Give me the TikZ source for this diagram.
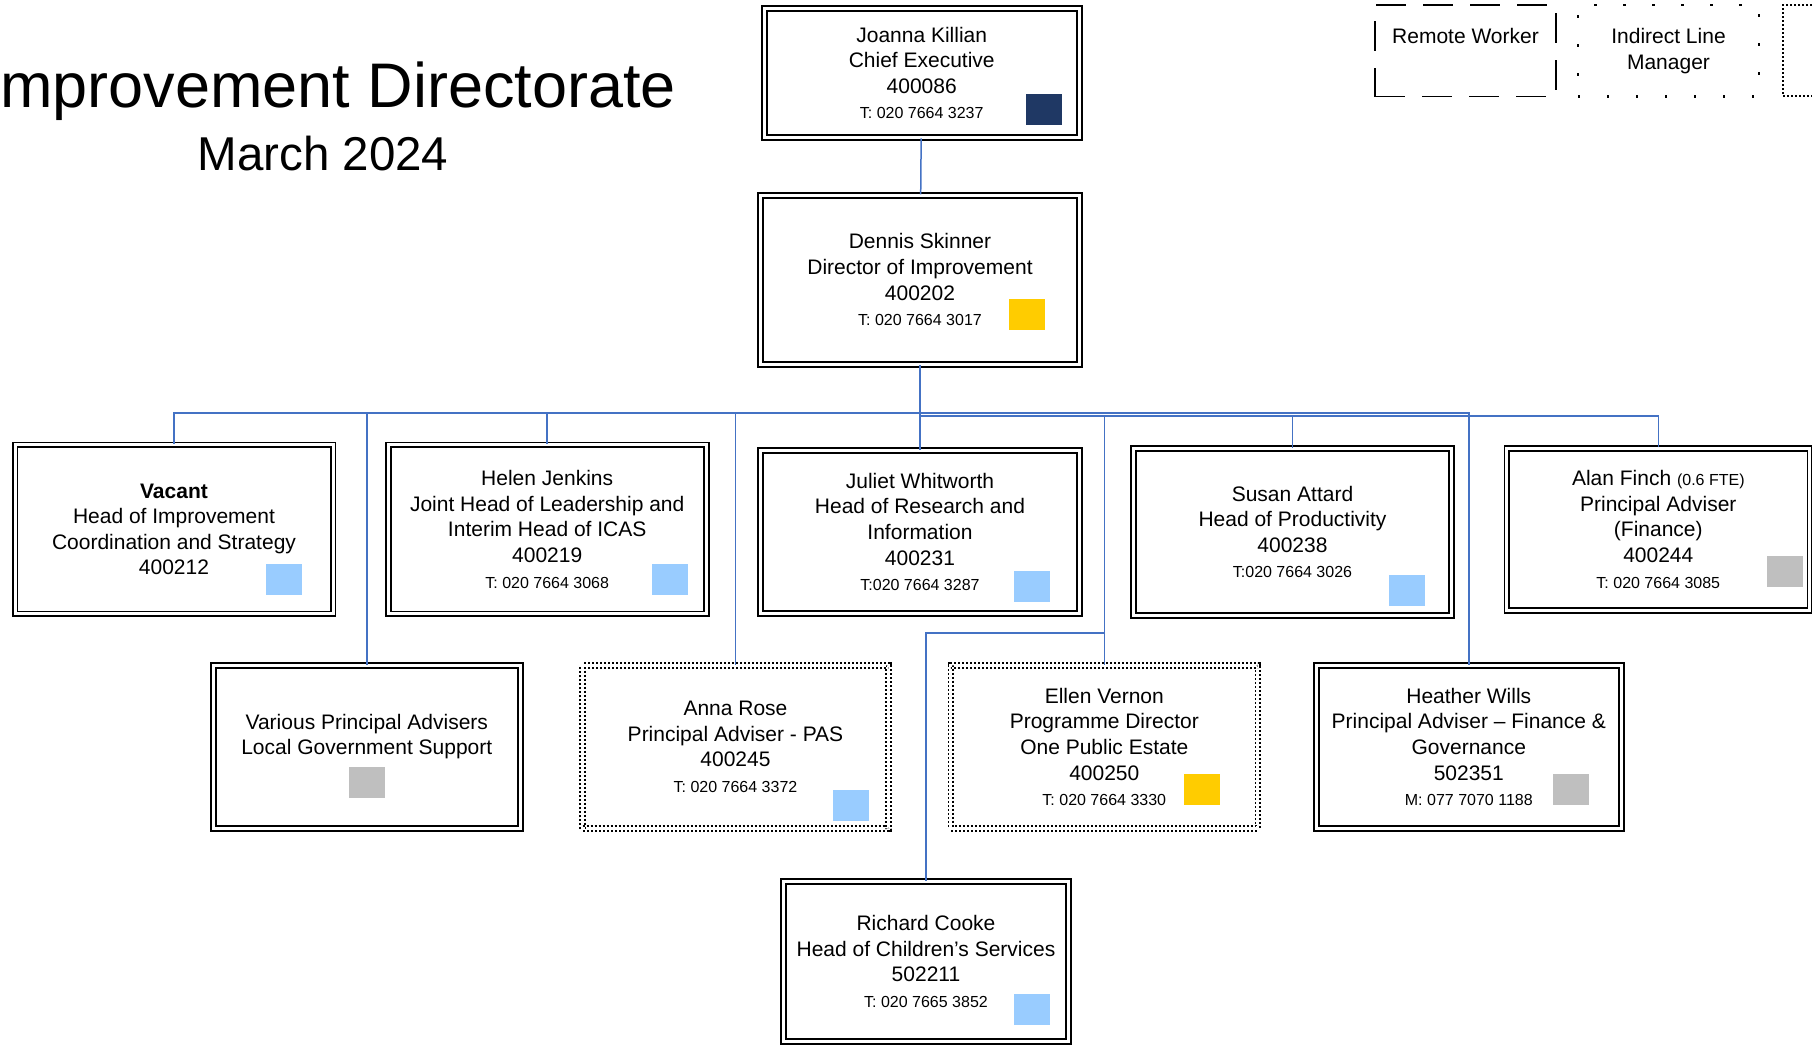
\documentclass[tikz,border=0pt]{standalone}
\usepackage{fontspec}
\setmainfont{Liberation Sans}
\definecolor{linkblue}{HTML}{4472C4}
\definecolor{navy}{HTML}{1F3864}
\definecolor{gold}{HTML}{FFCC00}
\definecolor{sky}{HTML}{99CCFF}
\definecolor{greytag}{HTML}{BFBFBF}
\newcommand{\telno}[1]{{\fontsize{8}{10}\selectfont #1}}
\tikzset{link/.style={draw=linkblue, line width=0.75pt}}

\begin{document}
\begin{tikzpicture}[x=0.5pt, y=-0.5pt]
			\useasboundingbox (0,0) rectangle (1812,1046);

			% heading
			\node[anchor=base west, inner sep=0pt, font=\fontsize{31.5}{36}\selectfont] (heading) at (0,107) {mprovement Directorate};
			\node[anchor=base, inner sep=0pt, font=\fontsize{23.75}{28}\selectfont] (date) at (323,170) {March 2024};

			% key
			\begin{scope}[every node/.style={rectangle, draw, minimum width=90.5pt, minimum height=45.8pt, align=center, inner sep=0pt, font=\fontsize{10.5}{12.8}\selectfont}]
				\node[line width=0.75pt, dash pattern=on 15pt off 8.5pt] (remote) at (1465.5,50.8) {Remote Worker\\\phantom{Manager}};
				\node[line width=1.2pt, dash pattern=on 1.2pt off 13.3pt] (indirect) at (1668.5,50.8) {Indirect Line\\Manager};
			\end{scope}
			\draw[line width=0.75pt, dash pattern=on 1pt off 1pt] (1840,5) -| (1783,96) -- (1840,96);

			\begin{scope}[every node/.style={rectangle, draw, double, double distance=1.5pt, line width=0.9pt, align=center, inner sep=0pt, font=\fontsize{10.5}{12.8}\selectfont}]
				\node[minimum width=157.5pt, minimum height=64.5pt] (ce) at (921.7,73) {Joanna Killian\\Chief Executive\\400086\\\telno{T: 020 7664 3237}};
				\node[minimum width=159.5pt, minimum height=84.5pt] (dir) at (920,279.8) {Dennis Skinner\\Director of Improvement\\400202\\\telno{T: 020 7664 3017}};
				\node[minimum width=159pt, minimum height=84.5pt] (vacant) at (174,529.3) {\textbf{Vacant}\\Head of Improvement\\Coordination and Strategy\\400212};
				\node[minimum width=159pt, minimum height=84.5pt] (helen) at (547.2,529.3) {Helen Jenkins\\Joint Head of Leadership and\\Interim Head of ICAS\\400219\\\telno{T: 020 7664 3068}};
				\node[minimum width=159.5pt, minimum height=81.5pt] (juliet) at (920,532) {Juliet Whitworth\\Head of Research and\\Information\\400231\\\telno{T:020 7664 3287}};
				\node[minimum width=159pt, minimum height=83.5pt] (susan) at (1292.5,532) {Susan Attard\\Head of Productivity\\400238\\\telno{T:020 7664 3026}};
				\node[minimum width=151.5pt, minimum height=81pt] (finch) at (1658.3,529.3) {Alan Finch \telno{(0.6 FTE)}\\Principal Adviser\\(Finance)\\400244\\\telno{T: 020 7664 3085}};
				\node[minimum width=153.5pt, minimum height=81.5pt] (various) at (366.8,747) {Various Principal Advisers\\Local Government Support\\\phantom{X}};
				\node[minimum width=153pt, minimum height=81.5pt, dash pattern=on 1pt off 1pt] (anna) at (735.5,747) {Anna Rose\\Principal Adviser - PAS\\400245\\\telno{T: 020 7664 3372}};
				\node[minimum width=153.5pt, minimum height=81.5pt, dash pattern=on 1pt off 1pt] (ellen) at (1104.3,747) {Ellen Vernon\\Programme Director\\One Public Estate\\400250\\\telno{T: 020 7664 3330}};
				\node[minimum width=152.5pt, minimum height=81.5pt] (heather) at (1468.8,747) {Heather Wills\\Principal Adviser – Finance \&\\Governance\\502351\\\telno{M: 077 7070 1188}};
				\node[minimum width=142.5pt, minimum height=80pt] (richard) at (926,961.5) {Richard Cooke\\Head of Children’s Services\\502211\\\telno{T: 020 7665 3852}};
			\end{scope}

			% colour tags
			\begin{scope}[every node/.style={rectangle, minimum width=18pt, minimum height=15.6pt, inner sep=0pt}]
				\node[fill=navy] (ce-tag) at (1043.5,109.5) {};
				\node[fill=gold] (dir-tag) at (1026.5,314.5) {};
				\node[fill=sky] (vacant-tag) at (283.8,579.5) {};
				\node[fill=sky] (helen-tag) at (669.8,579.5) {};
				\node[fill=sky] (juliet-tag) at (1032.3,586.5) {};
				\node[fill=sky] (susan-tag) at (1407,590.4) {};
				\node[fill=greytag] (finch-tag) at (1784.5,571.5) {};
				\node[fill=greytag] (various-tag) at (367,782.8) {};
				\node[fill=sky] (anna-tag) at (851,805.8) {};
				\node[fill=gold] (ellen-tag) at (1202.3,789.8) {};
				\node[fill=greytag] (heather-tag) at (1571,789.8) {};
				\node[fill=sky] (richard-tag) at (1032.3,1009.5) {};
			\end{scope}

			% reporting lines
			\coordinate (busL) at (920,413);
			\coordinate (busR) at (920,416);
			\coordinate (bend) at (1104.3,633);
			\draw[link] (ce) -- (dir);
			\draw[link] (dir) -- (juliet);
			\draw[link] (vacant.north) |- (busL);
			\draw[link] (various.north) |- (busL);
			\draw[link] (helen.north) |- (busL);
			\draw[link] (anna.north) |- (busL);
			\draw[link] (heather.north) |- (busL);
			\draw[link] (ellen.north) |- (busR);
			\draw[link] (susan.north) |- (busR);
			\draw[link] (finch.north) |- (busR);
			\draw[link] (richard.north) |- (bend);
		\end{tikzpicture}
\end{document}
